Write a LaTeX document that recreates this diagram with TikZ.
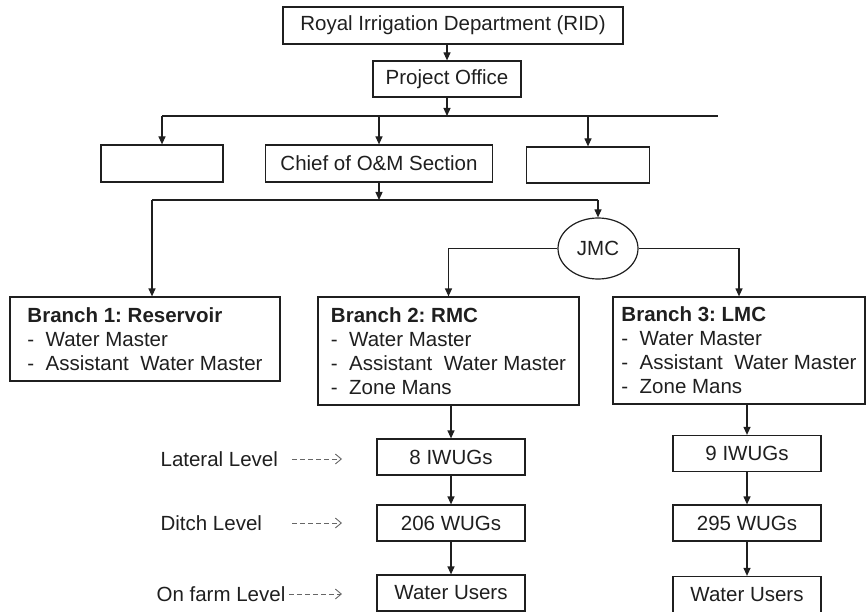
\documentclass[tikz,border=0pt]{standalone}
\usepackage{fontspec}
\setmainfont{Liberation Sans}
\usetikzlibrary{arrows.meta,shapes.geometric}
\frenchspacing

\begin{document}
\begin{tikzpicture}[x=1pt,y=-1pt,color=black!88,line width=1.2pt,
    box/.style={draw,rectangle,inner sep=2pt,font=\fontsize{20.5}{24}\selectfont},
    branch/.style={box,align=left,minimum height=#1},
    lvltext/.style={anchor=west,inner sep=0pt,font=\fontsize{20.5}{24}\selectfont},
    arr/.style={-{Triangle[length=8pt,width=7pt]}},
    lvlarr/.style={dash pattern=on 5pt off 3pt,line width=0.9pt,black!60,
      -{Straight Barb[length=6pt,width=10pt]}},
   ]
   \useasboundingbox (0,0) rectangle (866,612);
   \node[box,minimum width=340pt,minimum height=37pt] (rid) at (453,25.5)
     {Royal Irrigation Department (RID)};
   \node[box,minimum width=148pt,minimum height=36pt] (po) at (447,79) {Project Office};
   \node[box,minimum width=122pt,minimum height=37pt] (blankl) at (162,163.5) {};
   \node[box,minimum width=227pt,minimum height=37pt] (chief) at (379,163.5)
     {Chief of O\&M Section};
   \node[box,minimum width=123pt,minimum height=36pt] (blankr) at (588,165) {};
   \node[box,ellipse,inner sep=0pt,minimum width=80pt,minimum height=61pt] (jmc)
     at (598,248.5) {JMC};
   \node[branch=84pt,minimum width=270pt] (br1) at (145,339)
     {\textbf{Branch 1: Reservoir}\\-\ \ Water Master\\-\ \ Assistant\ \ Water Master};
   \node[branch=108pt,minimum width=261pt] (br2) at (448.5,351)
     {\textbf{Branch 2: RMC}\\-\ \ Water Master\\-\ \ Assistant\ \ Water Master\\-\ \ Zone Mans};
   \node[branch=107pt,minimum width=252pt] (br3) at (739,350.5)
     {\textbf{Branch 3: LMC}\\-\ \ Water Master\\-\ \ Assistant\ \ Water Master\\-\ \ Zone Mans};
   \begin{scope}[nodes={box,minimum width=148pt,minimum height=36pt}]
     \node (iwug8) at (451,457) {8 IWUGs};
     \node (wug206) at (451,523) {206 WUGs};
     \node (usersl) at (451,593) {Water Users};
     \node (iwug9) at (747,453.5) {9 IWUGs};
     \node (wug295) at (747,523) {295 WUGs};
     \node (usersr) at (747,594.5) {Water Users};
   \end{scope}
   \node[lvltext] (lateral) at (160,459) {Lateral Level};
   \node[lvltext] (ditch) at (160,523) {Ditch Level};
   \node[lvltext] (farm) at (156,594) {On farm Level};
   \coordinate (busa) at (162,116);
   \coordinate (busb) at (718,116);
   \coordinate (busc) at (152,200);
   \coordinate (busd) at (598,200);
   \coordinate (dstart) at (292,0);
   \coordinate (dend) at (342,0);
   \draw[arr] (rid.south -| po) -- (po);
   \draw[arr] (po) -- (po |- busa);
   \draw (busa) -- (busb);
   \draw[arr] (busa) -- (blankl);
   \draw[arr] (chief |- busa) -- (chief);
   \draw[arr] (blankr |- busa) -- (blankr);
   \draw[arr] (chief) -- (chief |- busc);
   \draw (busc) -- (busd);
   \draw[arr] (busc) -- (br1.north -| busc);
   \draw[arr] (busd) -- (jmc);
   \draw[arr] (jmc.west) -| (br2.north);
   \draw[arr] (jmc.east) -| (br3.north);
   \draw[arr] (br2.south -| iwug8) -- (iwug8);
   \draw[arr] (iwug8) -- (wug206);
   \draw[arr] (wug206) -- (usersl);
   \draw[arr] (br3.south -| iwug9) -- (iwug9);
   \draw[arr] (iwug9) -- (wug295);
   \draw[arr] (wug295) -- (usersr);
   \draw[lvlarr] (lateral.east -| dstart) -- (lateral.east -| dend);
   \draw[lvlarr] (ditch.east -| dstart) -- (ditch.east -| dend);
   \draw[lvlarr] ([xshift=3pt]farm.east) -- (farm.east -| dend);
\end{tikzpicture}
\end{document}
